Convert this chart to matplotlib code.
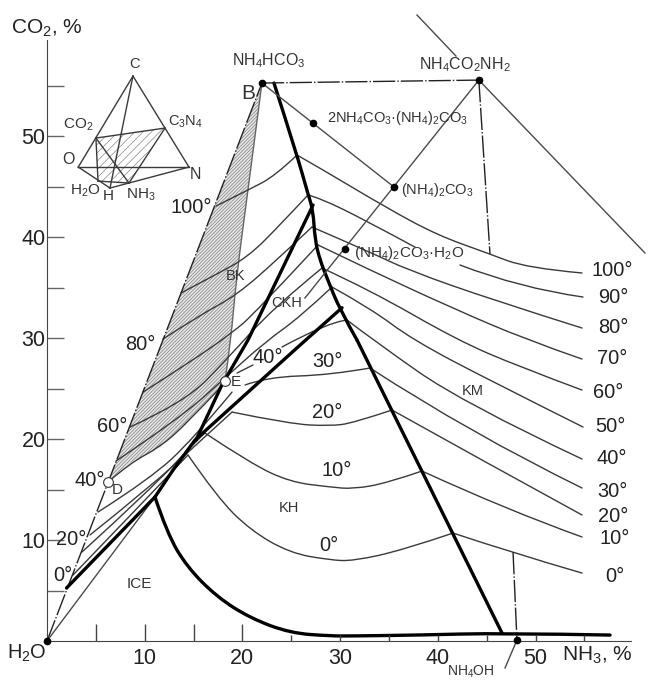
import matplotlib
matplotlib.use('Agg')
import matplotlib.pyplot as plt
from matplotlib.path import Path
from matplotlib.patches import PathPatch, Polygon

plt.rcParams['font.family'] = ['Liberation Sans', 'DejaVu Sans']
plt.rcParams['mathtext.default'] = 'regular'
plt.rcParams['hatch.linewidth'] = 0.5

# everything in percent NH3 (x) / percent CO2 (y)
origin = (0, 0)
pt_B = (22.0, 55.25)
pt_carbamate = (44.2, 55.54)
pt_double = (27.23, 51.29)
pt_carbonate = (35.52, 44.95)
pt_hydrate = (30.5, 38.81)
pt_nh4oh = (48.1, 0.1)
pt_D = (6.24, 15.74)
pt_E = (18.22, 25.74)

# bold phase boundaries
thick_a = [(2.0, 5.25), (11.05, 14.26), (12.9, 16.93), (15.15, 19.9), (25.9, 29.3), (30.2, 33.0)]
thick_b = [(15.25, 19.9), (17.9, 25.35), (20.57, 29.8), (27.23, 43.17)]
thick_c_top = [(23.23, 55.25), (25.59, 48.12), (26.71, 44.26), (27.23, 42.67), (27.43, 39.7),
               (27.94, 37.72), (28.66, 35.94), (29.99, 32.77), (31.73, 29.8)]
thick_c_low = [(31.73, 29.8), (46.57, 0.79)]
ice = [(11.05, 14.26), (12.28, 10.69), (14.33, 7.33), (17.4, 4.36), (20.78, 2.28), (24.87, 0.79),
       (28.97, 0.5), (31.32, 0.5), (38.18, 0.59), (46.57, 0.79), (57.63, 0.59)]

# isotherms, left and right of the bold boundary
t100_l = [(17.3, 43.07), (20.57, 44.65), (23.34, 46.04), (25.59, 48.12)]
t100_r = [(25.59, 48.12), (27.94, 46.83), (34.8, 42.87), (39.92, 40.2), (45.04, 38.42), (49.13, 36.93), (54.76, 36.44)]
t90_l = [(13.72, 34.46), (17.2, 36.24), (20.57, 38.02), (23.85, 41.19), (26.71, 44.16)]
t90_r1 = [(26.71, 44.16), (27.94, 43.86), (32.55, 41.68), (37.67, 39.0)]
t90_r2 = [(42.27, 37.23), (48.41, 34.95), (54.86, 34.06)]
t80_l = [(11.87, 29.9), (15.66, 32.28), (19.45, 34.26), (23.85, 38.02), (27.12, 40.99)]
t80_r = [(27.12, 40.99), (33.06, 38.51), (36.95, 36.73), (45.65, 33.76), (54.76, 30.99)]
t70_l = [(9.83, 24.65), (14.64, 27.62), (18.94, 30.5), (21.29, 32.48), (27.74, 39.21)]
t70_r = [(27.74, 39.21), (33.06, 36.73), (41.25, 33.07), (49.13, 29.8), (54.76, 27.92)]
t60_l = [(8.5, 21.19), (14.13, 23.66), (18.53, 28.02), (23.13, 32.97), (28.15, 36.93)]
t60_r = [(28.15, 36.93), (33.06, 34.75), (41.97, 29.8), (48.41, 27.13), (54.76, 24.85)]
t50_l = [(7.06, 17.82), (13.61, 22.08), (18.22, 26.04), (22.31, 29.6), (25.9, 32.08), (29.17, 35.05)]
t50_r = [(29.17, 35.05), (33.06, 32.97), (37.46, 29.8), (45.65, 25.64), (54.86, 21.19)]
t40_l = [(6.24, 15.74), (8.5, 17.62), (11.57, 19.21), (14.13, 21.39), (17.71, 25.05)]
t40_seg = [(19.45, 26.53), (21.08, 27.33)]
t40_m = [(24.05, 29.11), (28.76, 31.58), (30.71, 31.78)]
t40_r = [(30.71, 31.78), (33.37, 29.8), (42.58, 23.56), (54.76, 18.02)]
t30_l = [(5.22, 12.77), (10.54, 16.04), (14.95, 19.99), (18.94, 24.65)]
t30_m = [(20.27, 25.35), (22.52, 26.14), (28.97, 26.34), (33.06, 27.03)]
t30_r = [(33.06, 27.03), (43.3, 20.59), (54.76, 15.15)]
t20_l = [(4.4, 10.5), (10.54, 15.25), (15.35, 19.5), (18.94, 22.67)]
t20_m = [(18.94, 22.67), (24.87, 21.49), (28.97, 21.29), (31.32, 21.58), (35.31, 22.87)]
t20_r = [(35.31, 22.87), (45.04, 17.62), (54.76, 12.48)]
t10_l = [(3.58, 8.81), (10.54, 14.95), (15.35, 19.9), (16.17, 20.59)]
t10_m = [(16.17, 20.59), (20.78, 17.62), (24.87, 15.74), (28.97, 15.25), (31.32, 15.05), (34.8, 15.64), (38.38, 16.83)]
t10_r = [(38.38, 16.83), (47.08, 12.97), (54.76, 10.3)]
t0_l = [(2.66, 6.53), (10.54, 14.46), (14.43, 18.42)]
t0_m = [(14.43, 18.42), (17.4, 14.26), (20.78, 10.99), (24.87, 8.71), (28.97, 8.02), (31.32, 7.92), (36.44, 9.01), (41.56, 10.69)]
t0_r = [(41.56, 10.69), (47.7, 8.71), (54.76, 6.73)]

isotherms = [t100_l, t100_r, t90_l, t90_r1, t90_r2, t80_l, t80_r, t70_l, t70_r, t60_l, t60_r, t50_l, t50_r,
             t40_l, t40_seg, t40_m, t40_r, t30_l, t30_m, t30_r, t20_l, t20_m, t20_r, t10_l, t10_m, t10_r,
             t0_l, t0_m, t0_r]

# hatched BK field
bk_right_edge = [(22.0, 55.25), (20.57, 44.65), (19.35, 35.74), (18.83, 29.8), (18.22, 25.74)]

# straight thin lines
line_B = [pt_B, pt_carbonate]
line_carb = [pt_carbamate, (26.4, 33.96)]
line_far_a = [(37.87, 61.98), (41.86, 57.92)]
line_far_b = [pt_carbamate, (61.2, 38.42)]
line_h2o = [origin, (11.05, 14.26)]
line_leader = [pt_nh4oh, (46.88, -2.67)]

# dash-dot tie lines
dash_left = [origin, pt_B]
dash_top = [pt_B, pt_carbamate]
dash_right = [pt_carbamate, (45.34, 38.32)]
dash_low = [(47.7, 8.8), pt_nh4oh]

# tetrahedron sketch
tet_C = (8.8, 55.94)
tet_O = (3.2, 46.93)
tet_N = (14.53, 46.93)
tet_H = (6.45, 44.85)
tet_CO2 = (5.01, 49.8)
tet_C3N4 = (12.08, 50.79)
tet_H2O = (5.22, 45.54)
tet_NH3 = (8.39, 45.35)

right_labels = ['100°', '90°', '80°', '70°', '60°', '50°', '40°', '30°', '20°', '10°', '0°']
right_x = [57.9, 57.95, 58.0, 57.85, 57.4, 57.7, 57.85, 57.9, 57.9, 58.1, 58.1]
right_y = [36.7, 34.06, 31.0, 28.0, 24.65, 21.2, 18.1, 14.85, 12.3, 10.2, 6.4]
left_labels = ['100°', '80°', '60°', '40°', '20°', '0°']
left_x = [14.8, 9.5, 6.65, 4.4, 2.45, 1.64]
left_y = [42.97, 29.4, 21.2, 15.85, 10.1, 6.5]
mid_labels = ['40°', '30°', '20°', '10°', '0°']
mid_x = [22.6, 28.66, 28.66, 29.6, 28.8]
mid_y = [28.1, 27.7, 22.6, 16.9, 9.5]


def curve(ax, pts, color='#3a3a3a', lw=1.0):
    # quadratic spline through midpoints, so the bends stay round
    verts = [pts[0]]
    codes = [Path.MOVETO]
    if len(pts) == 2:
        verts.append(pts[1])
        codes.append(Path.LINETO)
    else:
        for i in range(1, len(pts) - 1):
            if i == len(pts) - 2:
                end = pts[-1]
            else:
                end = ((pts[i][0] + pts[i + 1][0]) / 2, (pts[i][1] + pts[i + 1][1]) / 2)
            verts += [pts[i], end]
            codes += [Path.CURVE3, Path.CURVE3]
    ax.add_patch(PathPatch(Path(verts, codes), fill=False, edgecolor=color, lw=lw, capstyle='round'))


def straight(ax, pts, **kw):
    ax.plot([p[0] for p in pts], [p[1] for p in pts], **kw)


fig = plt.figure(figsize=(6.51, 6.80), dpi=100)
ax = fig.add_axes([0, 0, 1, 1])
ax.set_xlim(-4.81, 61.82)
ax.set_ylim(-3.86, 63.47)
ax.patch.set_alpha(0)

for side in ['top', 'right']:
    ax.spines[side].set_visible(False)
ax.spines['left'].set_position(('data', 0))
ax.spines['bottom'].set_position(('data', 0))
ax.spines['left'].set_bounds(0, 59.5)
ax.spines['bottom'].set_bounds(0, 59.8)
ax.spines['left'].set_color('#444444')
ax.spines['bottom'].set_color('#444444')

ax.set_xticks([5, 10, 15, 20], ['', '10', '', '20'])
ax.set_xticks([25, 30, 35, 40, 45, 50, 55], ['', '30', '', '40', '', '50', ''], minor=True)
ax.set_yticks([5, 10, 15, 20, 25, 30, 35, 40, 45, 50, 55], ['', '10', '', '20', '', '30', '', '40', '', '50', ''])
ax.tick_params(axis='x', which='major', direction='in', length=12, width=1, color='#444444', labelsize=15.5, pad=5, labelcolor='#222222')
ax.tick_params(axis='x', which='minor', direction='in', length=4, width=1, color='#444444', labelsize=15.5, pad=5, labelcolor='#222222')
ax.tick_params(axis='y', direction='in', length=12, width=1, color='#666666', labelsize=15.5, pad=1, labelcolor='#222222')

bk_poly = bk_right_edge + t40_l[::-1]
ax.add_patch(Polygon(bk_poly, closed=True, facecolor='#e6e6e6', edgecolor='#808080', hatch='//////////', lw=0))
curve(ax, bk_right_edge[:-1] + [pt_E], color='#666666', lw=1.0)

for iso in isotherms:
    curve(ax, iso)

for ln in [line_B, line_carb, line_far_a, line_far_b, line_h2o, line_leader]:
    straight(ax, ln, color='#4a4a4a', lw=1.0)

for ln in [dash_left, dash_top, dash_right, dash_low]:
    straight(ax, ln, color='#222222', lw=1.0, ls=(0, (16, 1.5, 1, 1.5)))

for ln in [thick_a, thick_b, thick_c_low]:
    straight(ax, ln, color='black', lw=2.4, solid_capstyle='round')
curve(ax, thick_c_top, color='black', lw=2.4)
curve(ax, ice, color='black', lw=2.4)

dots = [origin, pt_B, pt_carbamate, pt_double, pt_carbonate, pt_hydrate, pt_nh4oh]
ax.plot([p[0] for p in dots], [p[1] for p in dots], 'o', color='black', ms=4.5, clip_on=False, zorder=5)
ax.plot([pt_D[0], pt_E[0]], [pt_D[1], pt_E[1]], 'o', mfc='white', mec='#333333', mew=0.8, ms=7, zorder=5)

# tetrahedron
ax.add_patch(Polygon([tet_CO2, tet_C3N4, tet_NH3, tet_H2O], closed=True, facecolor='white',
                     edgecolor='#888888', hatch='////', lw=0))
tet_lines = [(tet_C, tet_O), (tet_C, tet_N), (tet_O, tet_N), (tet_O, tet_H), (tet_H, tet_N), (tet_C, tet_H),
             (tet_CO2, tet_C3N4), (tet_CO2, tet_H2O), (tet_CO2, tet_NH3), (tet_C3N4, tet_NH3), (tet_H2O, tet_NH3)]
for ln in tet_lines:
    straight(ax, ln, color='#3a3a3a', lw=1.0)

txt = dict(ha='center', va='center', color='#333333')
ax.text(9.0, 57.1, 'C', fontsize=10.5, **txt)
ax.text(3.2, 51.1, 'CO$_2$', fontsize=11, **txt)
ax.text(14.2, 51.4, 'C$_3$N$_4$', fontsize=10.5, **txt)
ax.text(2.15, 47.7, 'O', fontsize=11.5, **txt)
ax.text(15.15, 46.2, 'N', fontsize=11.5, **txt)
ax.text(3.9, 44.55, 'H$_2$O', fontsize=11, **txt)
ax.text(6.25, 44.05, 'H', fontsize=11, **txt)
ax.text(9.6, 44.15, 'NH$_3$', fontsize=11, **txt)

ax.text(22.7, 57.5, 'NH$_4$HCO$_3$', fontsize=11.5, **txt)
ax.text(20.6, 54.25, 'B', fontsize=15, **txt)
ax.text(42.8, 57.1, 'NH$_4$CO$_2$NH$_2$', fontsize=11.5, **txt)
ax.text(35.9, 51.8, '2NH$_4$CO$_3$·(NH$_4$)$_2$CO$_3$', fontsize=10.5, **txt)
ax.text(40.0, 44.65, '(NH$_4$)$_2$CO$_3$', fontsize=10.5, **txt)
ax.text(37.05, 38.4, '(NH$_4$)$_2$CO$_3$·H$_2$O', fontsize=11, **txt)
ax.text(43.4, -3.05, 'NH$_4$OH', fontsize=10, **txt)

ax.text(19.25, 36.1, 'BK', fontsize=10.5, **txt)
ax.text(24.55, 33.5, 'CKH', fontsize=10.5, **txt)
ax.text(43.6, 24.75, 'KM', fontsize=10.5, **txt)
ax.text(24.8, 13.2, 'KH', fontsize=10.5, **txt)
ax.text(9.4, 5.65, 'ICE', fontsize=11, **txt)
ax.text(19.35, 25.65, 'E', fontsize=11, **txt)
ax.text(7.2, 14.95, 'D', fontsize=11, **txt)

big = dict(ha='center', va='center', color='#222222', fontsize=14.4)
ax.text(0, 60.7, 'CO$_2$, %', ha='center', va='center', color='#222222', fontsize=15)
ax.text(56.3, -1.4, 'NH$_3$, %', ha='center', va='center', color='#222222', fontsize=15)
ax.text(-2.05, -1.2, 'H$_2$O', **big)
for lab, x, y in zip(right_labels, right_x, right_y):
    ax.text(x, y, lab, **big)
for lab, x, y in zip(left_labels, left_x, left_y):
    ax.text(x, y, lab, **big)
for lab, x, y in zip(mid_labels, mid_x, mid_y):
    ax.text(x, y, lab, **big)

fig.savefig('out.png', dpi=100)
